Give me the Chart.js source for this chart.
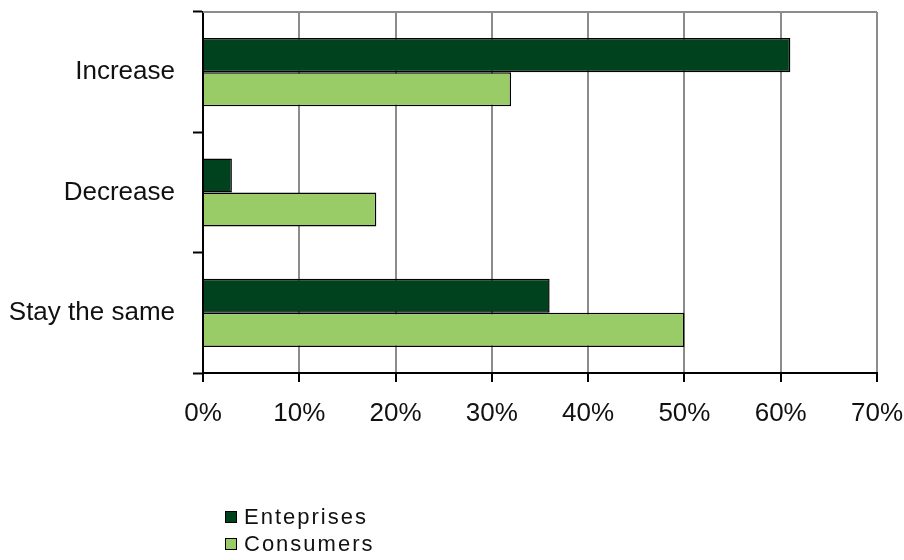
<!DOCTYPE html>
<html>
<head>
<meta charset="utf-8">
<script src="https://cdn.jsdelivr.net/npm/chart.js@4/dist/chart.umd.min.js"></script>
<style>
  html, body { margin: 0; padding: 0; background: #fff; }
  #wrap { width: 904px; height: 560px; position: relative; }
</style>
</head>
<body>
<div id="wrap"><canvas id="chart"></canvas></div>
<script>
const categories = ['Increase', 'Decrease', 'Stay the same'];
const enterprises = [61, 3, 36];
const consumers = [32, 18, 50];
const xTicks = [0, 10, 20, 30, 40, 50, 60, 70];

const DARK = '#00421d';
const LIGHT = '#99cc66';
const FONT = '"Liberation Sans", Arial, sans-serif';

// gray frame line along the top of the plot
const topLine = {
  id: 'topLine',
  afterDatasetsDraw(chart) {
    const { ctx, chartArea } = chart;
    ctx.save();
    ctx.strokeStyle = '#8c8c8c';
    ctx.lineWidth = 2;
    ctx.beginPath();
    ctx.moveTo(chartArea.left, chartArea.top);
    ctx.lineTo(chartArea.right, chartArea.top);
    ctx.stroke();
    ctx.restore();
  },
};

// stacked legend under the axis
const boxLegend = {
  id: 'boxLegend',
  afterDraw(chart) {
    const { ctx } = chart;
    ctx.save();
    ctx.font = '22px ' + FONT;
    ctx.letterSpacing = '2px';
    ctx.textBaseline = 'middle';
    chart.data.datasets.forEach((ds, i) => {
      const y = 517 + i * 27;
      ctx.fillStyle = ds.backgroundColor;
      ctx.fillRect(225, y - 5, 11, 11);
      ctx.strokeStyle = '#000';
      ctx.lineWidth = 1;
      ctx.strokeRect(225.5, y - 5.5, 11, 11);
      ctx.fillStyle = '#111';
      ctx.fillText(ds.label, 244, y + 1);
    });
    ctx.restore();
  },
};

new Chart(document.getElementById('chart'), {
  type: 'bar',
  data: {
    labels: categories,
    datasets: [
      {
        label: 'Enteprises',
        data: enterprises,
        backgroundColor: DARK,
        borderColor: '#000',
        borderWidth: 1.5,
      },
      {
        label: 'Consumers',
        data: consumers,
        backgroundColor: LIGHT,
        borderColor: '#000',
        borderWidth: 1.5,
      },
    ],
  },
  options: {
    indexAxis: 'y',
    responsive: true,
    maintainAspectRatio: false,
    animation: false,
    categoryPercentage: 0.567,
    barPercentage: 1.0,
    layout: { padding: { top: 12, right: 27, left: 0, bottom: 0 } },
    plugins: {
      legend: { display: false },
      tooltip: { enabled: false },
    },
    scales: {
      x: {
        min: xTicks[0],
        max: xTicks[xTicks.length - 1],
        afterBuildTicks: (scale) => {
          scale.ticks = xTicks.map((v) => ({ value: v }));
        },
        afterFit: (scale) => {
          scale.height = 187;
          scale.paddingLeft = 0;
          scale.paddingRight = 0;
        },
        ticks: {
          callback: (v) => v + '%',
          color: '#111',
          font: { family: FONT, size: 26 },
          padding: 16,
          maxRotation: 0,
        },
        grid: {
          color: '#8c8c8c',
          lineWidth: 2,
          tickLength: 9,
          tickColor: '#000',
          tickWidth: 2,
        },
        border: { color: '#000', width: 2 },
      },
      y: {
        offset: true,
        afterFit: (scale) => {
          scale.width = 203;
          scale.paddingTop = 0;
          scale.paddingBottom = 0;
        },
        ticks: {
          color: '#111',
          font: { family: FONT, size: 26 },
          padding: 18,
        },
        grid: {
          offset: true,
          drawOnChartArea: false,
          tickLength: 10,
          tickColor: '#000',
          tickWidth: 2,
        },
        border: { color: '#000', width: 2 },
      },
    },
  },
  plugins: [topLine, boxLegend],
});
</script>
</body>
</html>
